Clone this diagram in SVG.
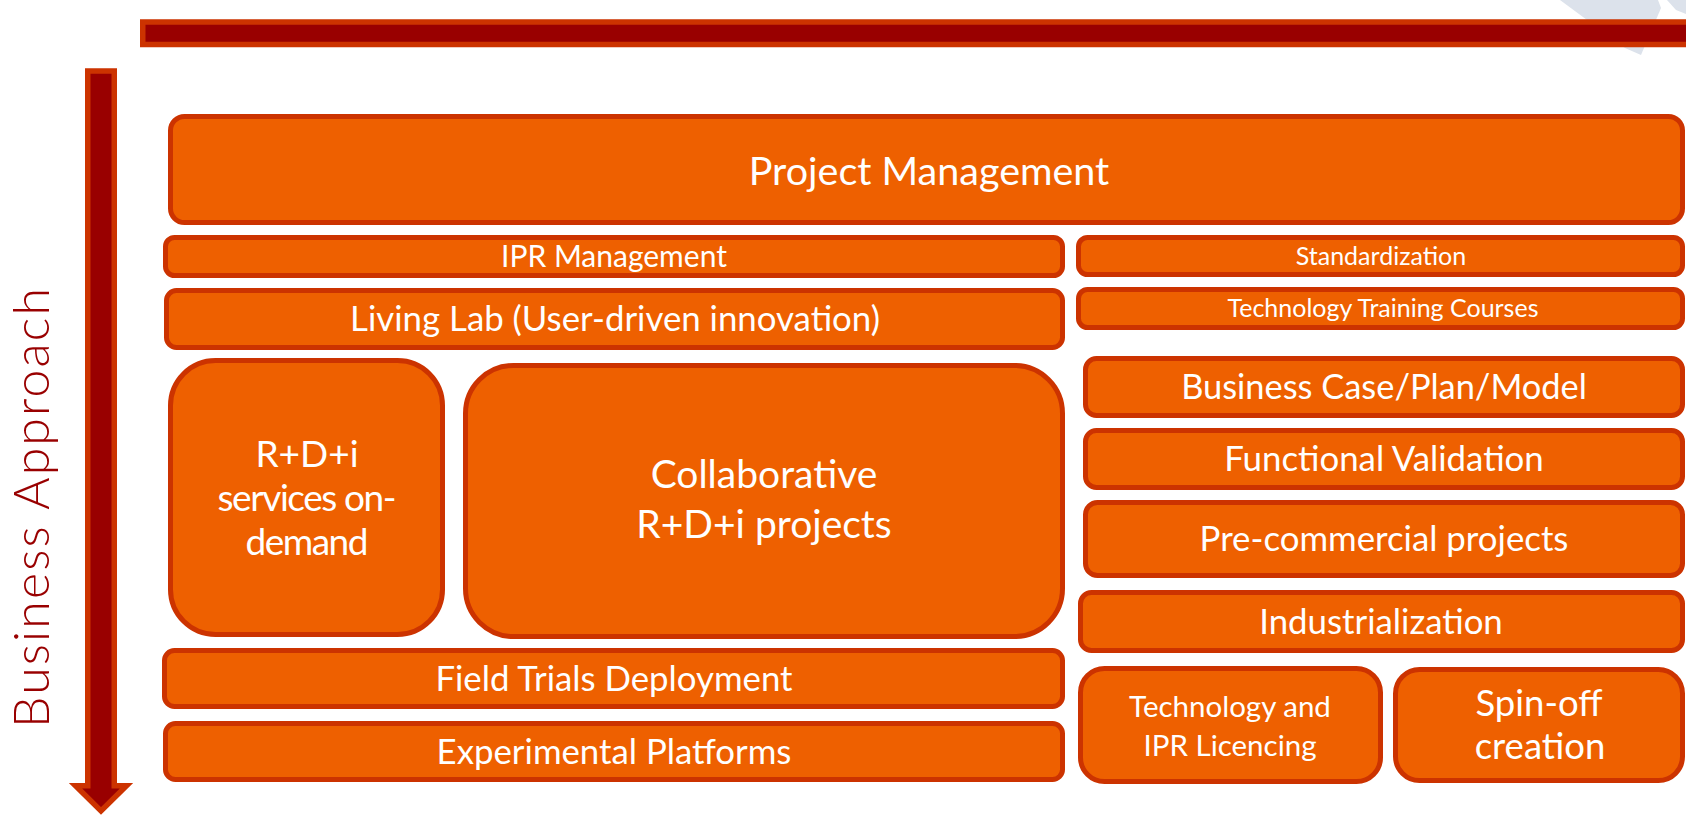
<svg xmlns="http://www.w3.org/2000/svg" width="1686" height="815" viewBox="0 0 1686 815">
<style>
.box{fill:#EE6000;stroke:#CC3300;stroke-width:5}
.t{fill:#FFFFFF;font-family:Lato,"Open Sans","Liberation Sans",sans-serif;text-anchor:middle}
.bar{fill:#990000;stroke:#CC3300;stroke-width:5.5}
</style>
<rect width="1686" height="815" fill="#FFFFFF"/>
<g id="logo-fragment" fill="#DCE2EB">
<polygon points="1560,0 1658,0 1661,8 1641,55 1625,48"/>
<polygon points="1667,0 1686,0 1686,14 1676,10"/>
</g>
<g id="top-bar">
<rect class="bar" x="142.75" y="22" width="1600" height="22.5"/>
</g>
<g id="axis-arrow">
<polygon class="bar" stroke-linejoin="miter" points="87.75,71 114.25,71 114.25,785.75 126.5,785.75 101,811 75.5,785.75 87.75,785.75"/>
<text transform="translate(49,508) rotate(-90)" text-anchor="middle" font-family="Lato,'Liberation Sans',sans-serif" font-weight="300" font-size="50" fill="#990000" textLength="440" lengthAdjust="spacing">Business Approach</text>
</g>
<g id="project-management">
<rect class="box" x="170.5" y="116.5" width="1512" height="106" rx="14"/>
<text class="t" x="929" y="185" font-size="39.5">Project Management</text>
</g>
<g id="ipr-management">
<rect class="box" x="165.5" y="237.5" width="897" height="38" rx="9"/>
<text class="t" x="614" y="267" font-size="30">IPR Management</text>
</g>
<g id="standardization">
<rect class="box" x="1078.5" y="237.5" width="604" height="37" rx="9"/>
<text class="t" x="1381" y="265" font-size="25">Standardization</text>
</g>
<g id="living-lab">
<rect class="box" x="166.5" y="290.5" width="896" height="57" rx="10"/>
<text class="t" x="615" y="331" font-size="34.8">Living Lab (User-driven innovation)</text>
</g>
<g id="technology-training">
<rect class="box" x="1078.5" y="289.5" width="604" height="38" rx="9"/>
<text class="t" x="1383" y="317" font-size="25">Technology Training Courses</text>
</g>
<g id="rdi-services">
<rect class="box" x="170.5" y="360.5" width="272" height="274" rx="45"/>
<text class="t" font-size="37"><tspan x="307" y="467">R+D+i</tspan><tspan x="307" y="511" textLength="179" lengthAdjust="spacing">services on-</tspan><tspan x="307" y="555" textLength="123" lengthAdjust="spacing">demand</tspan></text>
</g>
<g id="collaborative">
<rect class="box" x="465.5" y="365.5" width="597" height="271" rx="48"/>
<text class="t" font-size="39"><tspan x="764" y="488">Collaborative</tspan><tspan x="764" y="538">R+D+i projects</tspan></text>
</g>
<g id="business-case">
<rect class="box" x="1085.5" y="358.5" width="597" height="57" rx="11"/>
<text class="t" x="1384" y="399" font-size="34.4">Business Case/Plan/Model</text>
</g>
<g id="functional-validation">
<rect class="box" x="1085.5" y="430.5" width="597" height="57" rx="11"/>
<text class="t" x="1384" y="471" font-size="34.8">Functional Validation</text>
</g>
<g id="pre-commercial">
<rect class="box" x="1085.5" y="502.5" width="597" height="73" rx="12"/>
<text class="t" x="1384" y="551" font-size="34.8">Pre-commercial projects</text>
</g>
<g id="industrialization">
<rect class="box" x="1080.5" y="592.5" width="602" height="58" rx="11"/>
<text class="t" x="1381" y="633.5" font-size="34.8">Industrialization</text>
</g>
<g id="field-trials">
<rect class="box" x="164.5" y="650.5" width="898" height="56" rx="10"/>
<text class="t" x="614" y="691" font-size="34.8">Field Trials Deployment</text>
</g>
<g id="experimental-platforms">
<rect class="box" x="165.5" y="723.5" width="897" height="56" rx="10"/>
<text class="t" x="614" y="764" font-size="34.8">Experimental Platforms</text>
</g>
<g id="technology-ipr-licencing">
<rect class="box" x="1080.5" y="668.5" width="300" height="113" rx="24"/>
<text class="t" font-size="29.5"><tspan x="1230" y="717">Technology and</tspan><tspan x="1230" y="756">IPR Licencing</tspan></text>
</g>
<g id="spin-off">
<rect class="box" x="1395.5" y="669.5" width="287" height="111" rx="24"/>
<text class="t" font-size="36.5"><tspan x="1539" y="716">Spin-off</tspan><tspan x="1540" y="759">creation</tspan></text>
</g>
<g id="connectors"></g>
</svg>
